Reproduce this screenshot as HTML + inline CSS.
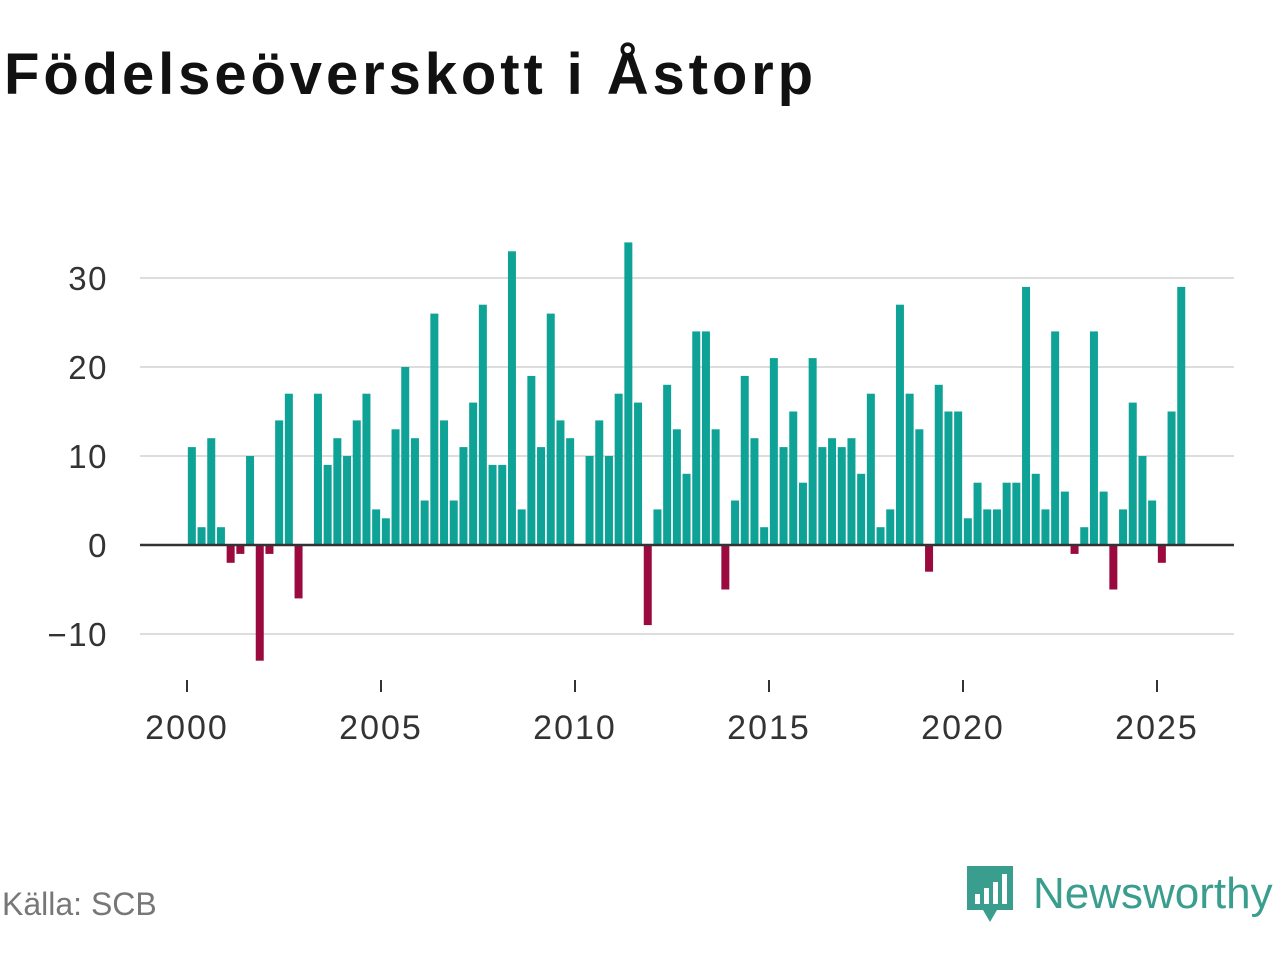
<!DOCTYPE html>
<html><head><meta charset="utf-8"><style>
body{margin:0;width:1280px;height:960px;background:#fff;font-family:"Liberation Sans","DejaVu Sans",sans-serif;overflow:hidden;position:relative}
h1{position:absolute;left:4px;top:41px;margin:0;font-size:58px;font-weight:bold;color:#111;letter-spacing:3.9px}
#src{position:absolute;left:2px;top:886px;font-size:32px;color:#777}
#logo{position:absolute;left:965px;top:864px;display:flex;align-items:center}
#logo span{font-size:44px;color:#3a9e8f;margin-left:18px}
</style></head><body>
<h1>Födelseöverskott i Åstorp</h1>
<svg id="chart" width="1280" height="960" style="position:absolute;left:0;top:0"></svg>
<div id="src">Källa: SCB</div>
<div id="logo">
<svg width="50" height="60"><path d="M2 2h46v44H32l-7 12-7-12H2z" fill="#3a9e8f"/><rect x="10" y="30" width="5" height="10" fill="#fff"/><rect x="19" y="24" width="5" height="16" fill="#fff"/><rect x="28" y="18" width="5" height="22" fill="#fff"/><rect x="37" y="10" width="5" height="30" fill="#fff"/></svg>
<span>Newsworthy</span></div>
<script>
const startYear=2000;
const values=[11,2,12,2,-2,-1,10,-13,-1,14,17,-6,0,17,9,12,10,14,17,4,3,13,20,12,5,26,14,5,11,16,27,9,9,33,4,19,11,26,14,12,0,10,14,10,17,34,16,-9,4,18,13,8,24,24,13,-5,5,19,12,2,21,11,15,7,21,11,12,11,12,8,17,2,4,27,17,13,-3,18,15,15,3,7,4,4,7,7,29,8,4,24,6,-1,2,24,6,-5,4,16,10,5,-2,15,29];
const yTicks=[-10,0,10,20,30];
const xTicks=[2000,2005,2010,2015,2020,2025];
const NS="http://www.w3.org/2000/svg";
const svg=document.getElementById('chart');
const X=yr=>187+(yr-2000)*38.8;
const Y=v=>545-v*8.9;
function mk(t,a){const e=document.createElementNS(NS,t);for(const k in a)e.setAttribute(k,a[k]);svg.appendChild(e);return e;}
yTicks.forEach(t=>{
 if(t!==0){const g=mk('line',{x1:140,x2:1234,y1:Y(t),y2:Y(t),stroke:'#ddd','stroke-width':2});
 
 }
 const l=mk('text',{x:108,y:Y(t)+12,'text-anchor':'end','font-size':33,'letter-spacing':1.5,fill:'#333'});
 l.textContent=t<0?'\u2212'+Math.abs(t):t;
 
 
});
values.forEach((v,i)=>{
 const c=X(startYear+(i+0.5)/4);
 const r=mk('rect',{x:c-4,width:8,y:Math.min(Y(v),Y(0)),height:Math.abs(Y(v)-Y(0)),fill:v>=0?'#0fa397':'#9b0a3e'});
 
 
});
const z=mk('line',{x1:140,x2:1234,y1:Y(0),y2:Y(0),stroke:'#333','stroke-width':2.5});


xTicks.forEach(t=>{
 const tk=mk('line',{x1:X(t),x2:X(t),y1:680,y2:692,stroke:'#333','stroke-width':2});
 
 
 const l=mk('text',{x:X(t),y:739,'text-anchor':'middle','font-size':34,'letter-spacing':2,fill:'#333'});
 l.textContent=t;
 
 
});
</script>
</body></html>
